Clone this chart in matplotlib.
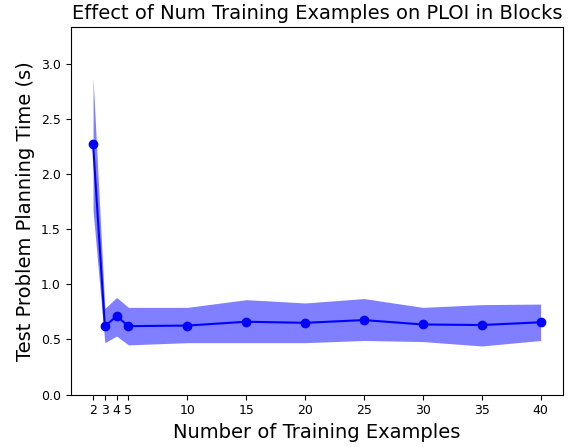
import matplotlib
matplotlib.use("Agg")
import matplotlib.pyplot as plt

num_examples = [2, 3, 4, 5, 10, 15, 20, 25, 30, 35, 40]
mean_times = [2.27, 0.62, 0.71, 0.62, 0.625, 0.66, 0.65, 0.675, 0.635, 0.63, 0.655]
upper = [2.87, 0.78, 0.88, 0.79, 0.79, 0.86, 0.83, 0.87, 0.79, 0.815, 0.82]
lower = [1.67, 0.47, 0.53, 0.45, 0.47, 0.47, 0.47, 0.49, 0.48, 0.44, 0.49]

fig = plt.figure(figsize=(5.74, 4.47), dpi=100)
ax = fig.add_axes([70.7/574, (447-394.5)/447, (563-70.7)/574, (394.5-27.3)/447])

ax.fill_between(num_examples, lower, upper, color="blue", alpha=0.5, linewidth=0)
ax.plot(num_examples, mean_times, "o-", color="blue", markersize=6)

ax.set_xticks(num_examples)
ax.set_ylim(0, 3.33)
ax.tick_params(labelsize=9)
ax.set_title("Effect of Num Training Examples on PLOI in Blocks", fontsize=14)
ax.set_xlabel("Number of Training Examples", fontsize=14)
ax.set_ylabel("Test Problem Planning Time (s)", fontsize=14)

plt.savefig("out.png", dpi=100)
